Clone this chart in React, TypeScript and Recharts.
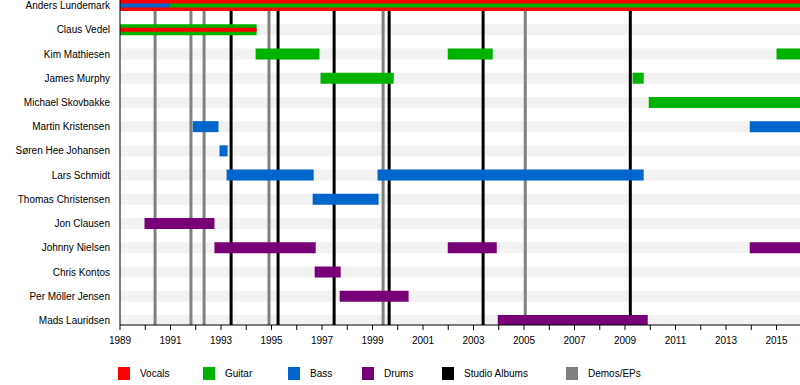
import React from 'react';
import { ComposedChart, XAxis, YAxis, ReferenceArea, ReferenceLine, Legend } from 'recharts';

type Period = { name: string; from: number; to: number };

const END = 2015.93;

const members = [
  'Anders Lundemark',
  'Claus Vedel',
  'Kim Mathiesen',
  'James Murphy',
  'Michael Skovbakke',
  'Martin Kristensen',
  'Søren Hee Johansen',
  'Lars Schmidt',
  'Thomas Christensen',
  'Jon Clausen',
  'Johnny Nielsen',
  'Chris Kontos',
  'Per Möller Jensen',
  'Mads Lauridsen',
];

// main role of each member (full-height bars)
const vocals: Period[] = [{ name: 'Anders Lundemark', from: 1989, to: END }];

const guitar: Period[] = [
  { name: 'Claus Vedel', from: 1989, to: 1994.41 },
  { name: 'Kim Mathiesen', from: 1994.37, to: 1996.9 },
  { name: 'Kim Mathiesen', from: 2001.98, to: 2003.76 },
  { name: 'Kim Mathiesen', from: 2015.0, to: END },
  { name: 'James Murphy', from: 1996.94, to: 1999.84 },
  { name: 'James Murphy', from: 2009.3, to: 2009.74 },
  { name: 'Michael Skovbakke', from: 2009.94, to: END },
];

const bass: Period[] = [
  { name: 'Martin Kristensen', from: 1991.88, to: 1992.9 },
  { name: 'Martin Kristensen', from: 2013.94, to: END },
  { name: 'Søren Hee Johansen', from: 1992.94, to: 1993.26 },
  { name: 'Lars Schmidt', from: 1993.22, to: 1996.67 },
  { name: 'Lars Schmidt', from: 1999.2, to: 2009.74 },
  { name: 'Thomas Christensen', from: 1996.63, to: 1999.24 },
];

const drums: Period[] = [
  { name: 'Jon Clausen', from: 1989.97, to: 1992.74 },
  { name: 'Johnny Nielsen', from: 1992.74, to: 1996.75 },
  { name: 'Johnny Nielsen', from: 2001.98, to: 2003.92 },
  { name: 'Johnny Nielsen', from: 2013.94, to: END },
  { name: 'Chris Kontos', from: 1996.71, to: 1997.74 },
  { name: 'Per Möller Jensen', from: 1997.7, to: 2000.43 },
  { name: 'Mads Lauridsen', from: 2003.96, to: 2009.9 },
];

// secondary roles (thin bars inside the main bar)
const secondaryVocals: Period[] = [{ name: 'Claus Vedel', from: 1989, to: 1994.41 }];
const secondaryGuitar: Period[] = [{ name: 'Anders Lundemark', from: 1990.96, to: END }];
const secondaryBass: Period[] = [{ name: 'Anders Lundemark', from: 1989, to: 1990.96 }];

const studioAlbums = [1993.4, 1995.26, 1997.48, 1999.66, 2003.38, 2009.21];
const demos = [1990.39, 1991.81, 1992.33, 1994.9, 1999.42, 2005.05];

const years = Array.from({ length: 27 }, (_, i) => 1989 + i);

const legendLabels = ['Vocals', 'Guitar', 'Bass', 'Drums', 'Studio Albums', 'Demos/EPs'];

const COLORS = {
  vocals: '#ff0000',
  guitar: '#00b200',
  bass: '#0066cc',
  drums: '#770077',
  studio: '#000000',
  demo: '#808080',
  stripe: '#f2f2f2',
};
const legendColors = [COLORS.vocals, COLORS.guitar, COLORS.bass, COLORS.drums, COLORS.studio, COLORS.demo];
const LEGEND_LEFT = [118, 203, 288, 362, 442, 566];

const FONT = '"Liberation Sans", Arial, sans-serif';
const OUTER = 0.227;
const INNER = 0.083;
const Y_DOMAIN: [number, number] = [-0.227, 13.186];

const rowOf = (name: string) => members.indexOf(name);

const renderLegend = () => (
  <div style={{ position: 'relative', width: 800, height: 20, fontFamily: FONT, fontSize: 10, color: '#000' }}>
    {legendLabels.map((label, i) => (
      <div
        key={label}
        style={{ position: 'absolute', left: LEGEND_LEFT[i], top: 2, display: 'flex', alignItems: 'center' }}
      >
        <span style={{ display: 'inline-block', width: 12, height: 13, background: legendColors[i] }} />
        <span style={{ marginLeft: 10 }}>{label}</span>
      </div>
    ))}
  </div>
);

// plain text tick so long names stay on one line
const MemberTick = (props: any) => {
  const { x, y, payload } = props;
  return (
    <text x={x} y={y} dy="0.355em" textAnchor="end" fill="#000" fontSize={10} fontFamily={FONT}>
      {members[payload.value]}
    </text>
  );
};

const bars = (list: Period[], color: string, half: number, key: string) =>
  list.map((p, i) => {
    const r = rowOf(p.name);
    return (
      <ReferenceArea
        key={`${key}-${i}`}
        x1={p.from}
        x2={p.to}
        y1={r - half}
        y2={r + half}
        fill={color}
        fillOpacity={1}
        stroke="none"
        ifOverflow="hidden"
        zIndex={120}
      />
    );
  });

export default function App() {
  return (
    <div style={{ position: 'absolute', left: 0, top: 0, width: 800, height: 385 }}>
      <ComposedChart
        width={800}
        height={385}
        data={members.map((name, i) => ({ name, row: i }))}
        margin={{ top: 0, right: 0, bottom: 0, left: 0 }}
        style={{ fontFamily: FONT }}
      >
        <XAxis
          type="number"
          dataKey="row"
          domain={[1989, END]}
          allowDataOverflow
          ticks={years}
          interval={0}
          tickFormatter={(v: number) => (v % 2 === 1 ? String(v) : '')}
          tickSize={5}
          tickMargin={7}
          height={40}
          axisLine={{ stroke: '#000' }}
          tickLine={{ stroke: '#000' }}
          tick={{ fill: '#000', fontSize: 10, fontFamily: FONT }}
        />
        <YAxis
          type="number"
          domain={Y_DOMAIN}
          allowDataOverflow
          reversed
          ticks={members.map((_, i) => i)}
          interval={0}
          width={120}
          tickLine={false}
          tickSize={6}
          tickMargin={4}
          axisLine={{ stroke: '#000' }}
          tick={<MemberTick />}
        />
        {members.map((name, i) => (
          <ReferenceArea
            key={`stripe-${name}`}
            x1={1989}
            x2={END}
            y1={i - OUTER}
            y2={i + OUTER}
            fill={COLORS.stripe}
            fillOpacity={1}
            stroke="none"
            ifOverflow="hidden"
            zIndex={100}
          />
        ))}
        {demos.map((x) => (
          <ReferenceLine key={`demo-${x}`} x={x} stroke={COLORS.demo} strokeWidth={3} zIndex={110} />
        ))}
        {studioAlbums.map((x) => (
          <ReferenceLine key={`album-${x}`} x={x} stroke={COLORS.studio} strokeWidth={3} zIndex={110} />
        ))}
        {bars(vocals, COLORS.vocals, OUTER, 'vocals')}
        {bars(guitar, COLORS.guitar, OUTER, 'guitar')}
        {bars(bass, COLORS.bass, OUTER, 'bass')}
        {bars(drums, COLORS.drums, OUTER, 'drums')}
        {bars(secondaryVocals, COLORS.vocals, INNER, 'svocals')}
        {bars(secondaryGuitar, COLORS.guitar, INNER, 'sguitar')}
        {bars(secondaryBass, COLORS.bass, INNER, 'sbass')}
        <Legend
          verticalAlign="bottom"
          content={renderLegend}
          wrapperStyle={{ left: 0, width: 800, height: 20 }}
        />
      </ComposedChart>
    </div>
  );
}
